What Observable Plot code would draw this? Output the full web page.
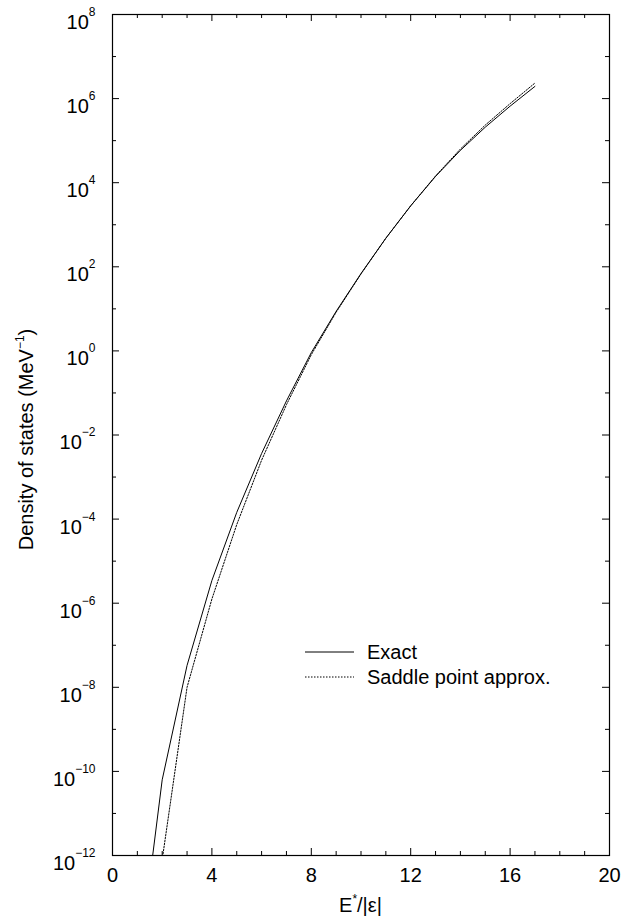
<!DOCTYPE html>
<html><head><meta charset="utf-8">
<script src="https://cdn.jsdelivr.net/npm/d3@7"></script>
<script src="https://cdn.jsdelivr.net/npm/@observablehq/plot@0.6"></script>
<style>
body{margin:0;background:#fff}
svg{font-family:"Liberation Sans",Arial,Helvetica,sans-serif}
</style>
</head><body><div id="chart"></div>
<script>
// ---- data (density values stored as log10) ----
const exactEnergy = [1,2,3,4,5,6,7,8,9,10,11,12,13,14,15,16,17];
const exactLog10  = [-14.9,-10.2,-7.48,-5.46,-3.84,-2.44,-1.19,-0.04,0.94,1.84,2.68,3.45,4.15,4.77,5.32,5.82,6.29];
const saddleEnergy = [2,3,4,5,6,7,8,9,10,11,12,13,14,15,16,17];
const saddleLog10  = [-12.1,-8.0,-5.9,-4.13,-2.6,-1.28,-0.09,0.92,1.83,2.68,3.45,4.16,4.8,5.37,5.88,6.37];
const seriesNames = ["Exact","Saddle point approx."];
const xTickLabels = [0,4,8,12,16,20];
const xMinorTicks = [1,2,3,5,6,7,9,10,11,13,14,15,17,18,19];
const yTickExponents = [-12,-10,-8,-6,-4,-2,0,2,4,6,8];
const yMinorExponents = [-11,-9,-7,-5,-3,-1,1,3,5,7];
const xTitleParts = ["E","*","/|ε|"];
const yTitleParts = ["Density of states (MeV","−1",")"];

// ---- layout ----
const W = 621, H = 920, mL = 112, mR = 12, mT = 14, mB = 65;
const pw = W - mL - mR, ph = H - mT - mB;
const majorLen = 7, minorLen = 4;

const exact = exactEnergy.map((e,i)=>({e, v: Math.pow(10, exactLog10[i])}));
const saddle = saddleEnergy.map((e,i)=>({e, v: Math.pow(10, saddleLog10[i])}));
const yMajor = yTickExponents.map(p=>Math.pow(10,p));
const yMinor = yMinorExponents.map(p=>Math.pow(10,p));

const chart = Plot.plot({
  width: W, height: H,
  marginLeft: mL, marginRight: mR, marginTop: mT, marginBottom: mB,
  style: {background:"#fff", color:"#000", fontFamily:'"Liberation Sans",Arial,sans-serif', fontSize:"20px"},
  x: {domain:[0,20]},
  y: {type:"log", domain:[1e-12,1e8]},
  marks: [
    Plot.ruleX(xTickLabels, {x:d=>d, insetTop: ph-majorLen, stroke:"#000"}),
    Plot.ruleX(xTickLabels, {x:d=>d, insetBottom: ph-majorLen, stroke:"#000"}),
    Plot.ruleX(xMinorTicks, {x:d=>d, insetTop: ph-minorLen, stroke:"#000"}),
    Plot.ruleX(xMinorTicks, {x:d=>d, insetBottom: ph-minorLen, stroke:"#000"}),
    Plot.ruleY(yMajor, {y:d=>d, insetRight: pw-majorLen, stroke:"#000"}),
    Plot.ruleY(yMajor, {y:d=>d, insetLeft: pw-majorLen, stroke:"#000"}),
    Plot.ruleY(yMinor, {y:d=>d, insetRight: pw-minorLen, stroke:"#000"}),
    Plot.ruleY(yMinor, {y:d=>d, insetLeft: pw-minorLen, stroke:"#000"}),
    Plot.axisX({ticks: xTickLabels, tickSize:0, tickPadding:12, fontSize:20, label:null, tickFormat:d=>String(d)}),
    Plot.axisY({ticks: yMajor, tickSize:0, tickPadding:17, fontSize:20, label:null,
      tickFormat:d=>String(Math.round(Math.log10(d))).replace("-","−")}),
    Plot.line(exact, {x:"e", y:"v", stroke:"#000", strokeWidth:1, clip:true}),
    Plot.line(saddle, {x:"e", y:"v", stroke:"#000", strokeWidth:1, strokeDasharray:"1.5,1.5", clip:true}),
    Plot.frame({stroke:"#000", strokeWidth:1.2})
  ]
});
document.getElementById("chart").appendChild(chart);

const svg = d3.select(chart);
// superscript exponents on y tick labels
svg.selectAll('[aria-label="y-axis tick label"] text').each(function(){
  const t = d3.select(this);
  const ex = t.text();
  t.text(null).attr("dy","0.4em");
  t.append("tspan").text("10");
  t.append("tspan").attr("dy","-13").attr("font-size","12px").text(ex);
});

// axis titles
const xt = svg.append("text").attr("x", mL + pw/2).attr("y", 912)
  .attr("text-anchor","middle").attr("font-size","20px").attr("fill","#000");
xt.append("tspan").text(xTitleParts[0]);
xt.append("tspan").attr("dy","-9").attr("font-size","12px").text(xTitleParts[1]);
xt.append("tspan").attr("dy","9").attr("font-size","20px").text(xTitleParts[2]);

const yt = svg.append("text").attr("transform",`translate(33,${mT+ph/2+5}) rotate(-90)`)
  .attr("text-anchor","middle").attr("font-size","20px").attr("fill","#000");
yt.append("tspan").text(yTitleParts[0]);
yt.append("tspan").attr("dy","-9").attr("font-size","12px").text(yTitleParts[1]);
yt.append("tspan").attr("dy","9").attr("font-size","20px").text(yTitleParts[2]);

// legend
const lg = svg.append("g").attr("text-anchor","start");
const legY = [652, 677], dashes = [null, "1.5,1.5"];
seriesNames.forEach((name,i)=>{
  lg.append("line").attr("x1",305).attr("x2",354).attr("y1",legY[i]).attr("y2",legY[i])
    .attr("stroke","#000").attr("stroke-width",1).attr("stroke-dasharray",dashes[i]);
  lg.append("text").attr("x",367).attr("y",legY[i]).attr("dy","0.36em")
    .attr("text-anchor","start").attr("font-size","20px").attr("fill","#000").text(name);
});
</script>
</body></html>
